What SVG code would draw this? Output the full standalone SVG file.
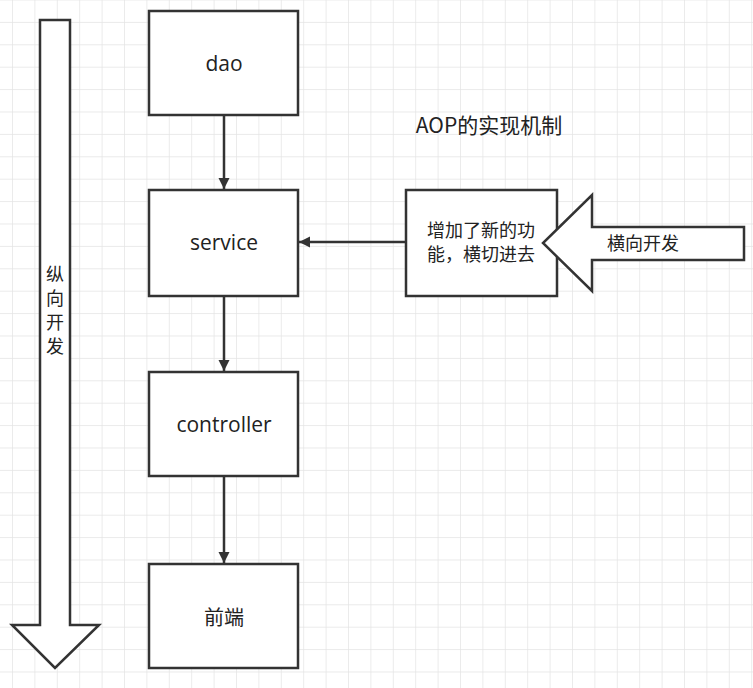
<svg xmlns="http://www.w3.org/2000/svg" width="753" height="688" viewBox="0 0 753 688">
<defs>
<pattern id="g" x="12" y="-0.5" width="22.4" height="22.4" patternUnits="userSpaceOnUse"><path d="M0 0V22.4M0 0H22.4" stroke="#e4e4e4" stroke-width="1.4" fill="none"/></pattern>
<marker id="a" markerWidth="12" markerHeight="12" refX="11" refY="6" orient="auto" markerUnits="userSpaceOnUse"><path d="M0 0.5L11 6L0 11.5z" fill="#333"/></marker>
<style>.b{fill:#fff;stroke:#333;stroke-width:2.5}.t{font-family:"Open Sans","Noto Sans CJK SC",sans-serif;font-size:21px;fill:#222;text-anchor:middle}.c{font-family:"Noto Sans CJK SC",sans-serif;font-size:18px;fill:#222;text-anchor:middle}.l{stroke:#333;stroke-width:2.5;fill:none;marker-end:url(#a)}</style>
</defs>
<rect width="753" height="688" fill="#fff"/>
<rect width="753" height="688" fill="url(#g)"/>
<g id="vertical"><path class="b" d="M40 20H70V625H99L55 668L12 625H40Z"/><text class="c" x="55" y="281">纵</text><text class="c" x="55" y="305">向</text><text class="c" x="55" y="329">开</text><text class="c" x="55" y="353">发</text></g>
<g id="dao"><rect class="b" x="149" y="11" width="149" height="104"/><text class="t" x="224" y="71">dao</text></g>
<g id="service"><rect class="b" x="149" y="190" width="149" height="106"/><text class="t" x="224" y="250">service</text></g>
<g id="controller"><rect class="b" x="149" y="372" width="149" height="104"/><text class="t" x="224" y="432">controller</text></g>
<g id="frontend"><rect class="b" x="149" y="564" width="149" height="104"/><text class="c" x="224" y="625" style="font-size:20px">前端</text></g>
<g id="feature"><rect class="b" x="406" y="190" width="151" height="106"/><text class="c" x="481" y="237">增加了新的功</text><text class="c" x="481" y="261">能，横切进去</text></g>
<g id="horizontal"><path class="b" d="M744 227V260H592V291L543 243L592 195V227Z"/><text class="c" x="643" y="250">横向开发</text></g>
<g id="title"><text class="c" x="489" y="133" style="font-size:21px">AOP的实现机制</text></g>
<g id="connectors">
<path class="l" d="M224 115V189"/><path class="l" d="M224 296V371"/><path class="l" d="M224 476V563"/><path class="l" d="M406 242H299"/>
</g>
</svg>
